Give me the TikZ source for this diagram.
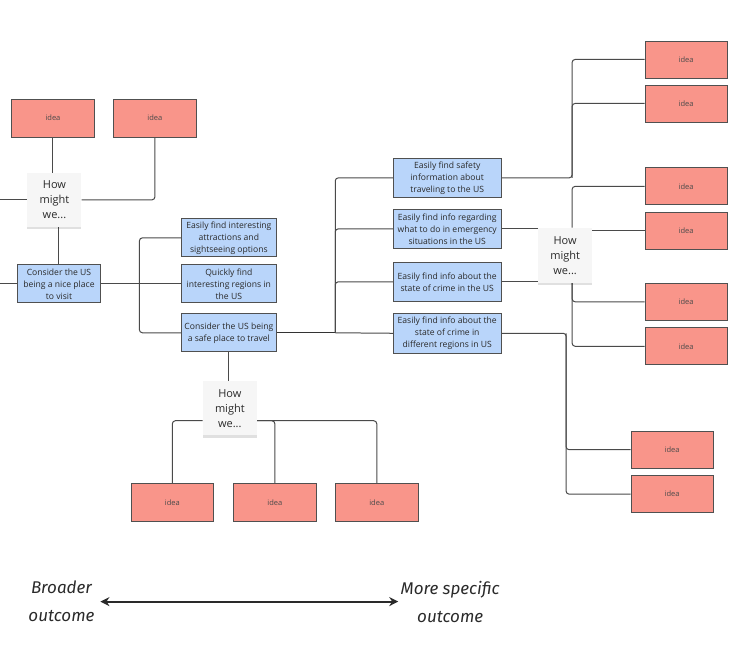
\documentclass[tikz,border=0pt]{standalone}
\usepackage{fontspec}
\setmainfont{Open Sans}
\newfontfamily\handfont{Fira Sans}
\usetikzlibrary{shadows,arrows.meta}
\pgfdeclarelayer{backgr}
\pgfdeclarelayer{bg}
\pgfsetlayers{backgr,bg,main}
\definecolor{ideafill}{HTML}{F9958A}
\definecolor{bluefill}{HTML}{B9D5FA}
\definecolor{boxline}{HTML}{505050}
\definecolor{linec}{HTML}{4A4A4A}
\definecolor{stickyfill}{HTML}{F6F6F6}
\definecolor{textc}{HTML}{2A2A2A}
\begin{document}
\begin{tikzpicture}[x=1pt,y=-1pt,
  idea/.style={rectangle, draw=boxline, fill=ideafill, line width=0.8pt,
    minimum width=83pt, minimum height=38pt, inner sep=0pt, text=textc!85,
    font=\fontsize{7.5}{8}\selectfont},
  bluebox/.style={rectangle, draw=boxline, fill=bluefill, line width=0.8pt,
    minimum height=38pt, inner sep=0pt, align=center, text=textc,
    font=\fontsize{8.6}{12}\selectfont},
  hmw/.style={rectangle, fill=stickyfill, minimum width=54pt, minimum height=54pt,
    inner sep=0pt, align=center, text=textc, font=\fontsize{11}{15}\selectfont,
    drop shadow={shadow xshift=0pt, shadow yshift=-2.5pt, opacity=0.12, fill=black}},
  conn/.style={draw=linec, line width=1pt, rounded corners=3pt},
  hand/.style={font=\handfont\itshape\fontsize{17}{28}\selectfont, align=center, text=textc}
]
\begin{pgfonlayer}{backgr}
\useasboundingbox[fill=white] (0,0) rectangle (740,658);
\end{pgfonlayer}

% left column
\node[idea] (idL1) at (52.5,118) {idea};
\node[idea] (idL2) at (154.5,118) {idea};
\node[hmw] (hmwL) at (54,200) {How\\might\\we...};
\node[bluebox, minimum width=83pt] (bL) at (58.5,284) {Consider the US\\being a nice place\\to visit};
\coordinate (edgeL1) at (0,200);
\coordinate (edgeL2) at (0,284);

% middle column
\node[bluebox, minimum width=95pt] (mA) at (228.5,238) {Easily find interesting\\attractions and\\sightseeing options};
\node[bluebox, minimum width=95pt] (mB) at (228.5,284) {Quickly find\\interesting regions in\\the US};
\node[bluebox, minimum width=95pt] (mC) at (228.5,333) {Consider the US being\\a safe place to travel};

% right blue column
\node[bluebox, minimum width=108pt, minimum height=39pt] (rA) at (447,178) {Easily find safety\\information about\\traveling to the US};
\node[bluebox, minimum width=108pt, minimum height=39pt] (rB) at (447,229) {Easily find info regarding\\what to do in emergency\\situations in the US};
\node[bluebox, minimum width=108pt, minimum height=39pt] (rC) at (447,282) {Easily find info about the\\state of crime in the US};
\node[bluebox, minimum width=108pt, minimum height=40pt] (rD) at (447,333.5) {Easily find info about the\\state of crime in\\different regions in US};

% right ideas
\node[idea, minimum width=82pt, minimum height=37pt] (idR1) at (686,59.5) {idea};
\node[idea, minimum width=82pt, minimum height=37pt] (idR2) at (686,103.5) {idea};
\node[idea, minimum width=82pt, minimum height=37pt] (idR3) at (686,186.5) {idea};
\node[idea, minimum width=82pt, minimum height=37pt] (idR4) at (686,231) {idea};
\node[idea, minimum width=82pt, minimum height=37pt] (idR5) at (686,302) {idea};
\node[idea, minimum width=82pt, minimum height=37pt] (idR6) at (686,346.5) {idea};
\node[idea, minimum width=82pt, minimum height=37pt] (idR7) at (672,450) {idea};
\node[idea, minimum width=82pt, minimum height=37pt] (idR8) at (672,494.5) {idea};
\node[hmw, minimum height=55pt] (hmwR) at (565,255.5) {How\\might\\we...};

% bottom
\node[hmw] (hmwB) at (229.5,408.5) {How\\might\\we...};
\node[idea] (idB1) at (172,503) {idea};
\node[idea] (idB2) at (274.5,503) {idea};
\node[idea] (idB3) at (376.5,503) {idea};

% junction coordinates
\coordinate (jL) at (139,284);
\coordinate (jM) at (335,333);
\coordinate (vR1) at (572,0);
\coordinate (vR2) at (572,0);
\coordinate (vR3) at (566,0);
\coordinate (hB) at (0,421);

\begin{pgfonlayer}{bg}
  % left
  \draw[conn] (idL1.south) -- (idL1.south |- hmwL.north);
  \draw[conn] (idL2.south) |- (hmwL.east);
  \draw[conn] (edgeL1) -- (hmwL.west);
  \draw[conn] (bL.north |- hmwL.south) -- (bL.north);
  \draw[conn] (edgeL2) -- (bL.west);
  \draw[conn] (bL.east) -- (jL);
  \draw[conn] (jL) |- (mA.west);
  \draw[conn] (jL) -- (mB.west);
  \draw[conn] (jL) |- (mC.west);
  % middle
  \draw[conn, line width=1.3pt, draw=black!80] (mC.east) -- (jM);
  \draw[conn] (jM) |- (rA.west);
  \draw[conn] (jM) |- (rB.west);
  \draw[conn] (jM) |- (rC.west);
  \draw[conn] (jM) -- (rD.west);
  % right top
  \draw[conn] (rA.east) -| (vR1 |- idR1.west) -- (idR1.west);
  \draw[conn] (vR1 |- rA.east) |- (idR2.west);
  % right middle
  \draw[conn] (rB.east) -- (hmwR.west |- rB.east);
  \draw[conn] (hmwR.east |- idR4.west) -- (idR4.west);
  \draw[conn] (rC.east) -- (vR2 |- rC.east);
  \draw[conn] (idR3.west) -| (vR2 |- hmwR.north);
  \draw[conn] (vR2 |- hmwR.south) |- (idR5.west);
  \draw[conn] (vR2 |- hmwR.south) |- (idR6.west);
  % right bottom
  \draw[conn] (rD.east) -| (vR3 |- idR7.west) -- (idR7.west);
  \draw[conn] (vR3 |- rD.east) |- (idR8.west);
  % bottom
  \draw[conn] (mC.south) -- (mC.south |- hmwB.north);
  \draw[conn] (hmwB.west |- hB) -| (idB1.north);
  \draw[conn] (hmwB.east |- hB) -| (idB2.north);
  \draw[conn] (hmwB.east |- hB) -| (idB3.north);
\end{pgfonlayer}

% scale arrow
\node[hand] (tL) at (61,602) {Broader\\outcome};
\node[hand] (tR) at (450,602) {More specific\\outcome};
\coordinate (aL) at (100,602);
\coordinate (aR) at (398,602);
\draw[line width=1.8pt, draw=textc, {Stealth[length=9pt,width=9pt]}-{Stealth[length=9pt,width=9pt]}] (aL) -- (aR);
\end{tikzpicture}
\end{document}
